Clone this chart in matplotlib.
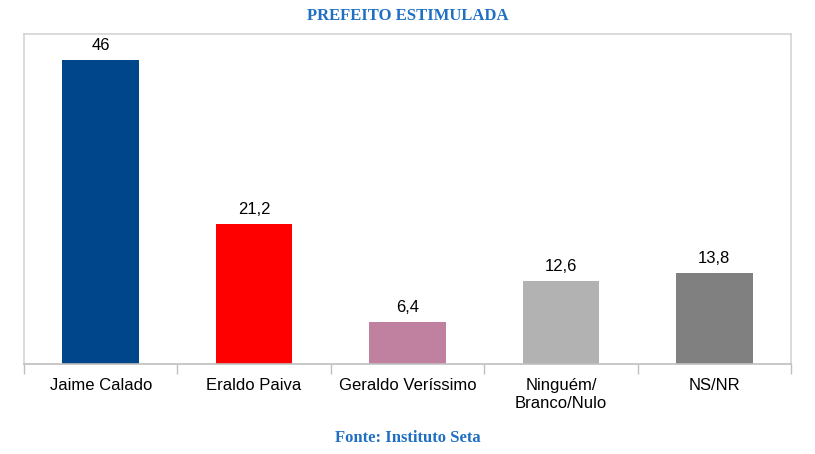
import matplotlib.pyplot as plt

candidatos = ['Jaime Calado', 'Eraldo Paiva', 'Geraldo Veríssimo', 'Ninguém/\nBranco/Nulo', 'NS/NR']
votos = [46, 21.2, 6.4, 12.6, 13.8]
rotulos = ['46', '21,2', '6,4', '12,6', '13,8']
cores = ['#00468A', '#FF0000', '#C0809F', '#B2B2B2', '#808080']


def main():
    plt.rcParams['font.family'] = ['Liberation Sans', 'DejaVu Sans']
    fig = plt.figure(figsize=(8.15, 4.54), dpi=100)
    ax = fig.add_axes([24 / 815, 90 / 454, 767 / 815, 330 / 454])

    x = range(len(candidatos))
    bars = ax.bar(x, votos, width=0.5, color=cores)
    for b, txt in zip(bars, rotulos):
        ax.annotate(txt, (b.get_x() + b.get_width() / 2, b.get_height()),
                    xytext=(0, 5), textcoords='offset points',
                    ha='center', va='bottom', fontsize=12)

    ax.set_xlim(-0.5, len(candidatos) - 0.5)
    ax.set_ylim(0, 50)
    ax.set_yticks([])
    ax.set_xticks(list(x))
    ax.set_xticklabels(candidatos, fontsize=12, linespacing=1.25)
    ax.tick_params(axis='x', which='major', length=0, pad=10)
    ax.set_xticks([i - 0.5 for i in range(len(candidatos) + 1)], minor=True)
    ax.tick_params(axis='x', which='minor', length=7, color='#BFBFBF', width=1)

    for s in ['left', 'top', 'right']:
        ax.spines[s].set_color('#D4D4D4')
        ax.spines[s].set_linewidth(1.2)
    ax.spines['bottom'].set_color('#BFBFBF')
    ax.spines['bottom'].set_linewidth(1.2)

    fig.text(408 / 815, 1 - 16 / 454, 'PREFEITO ESTIMULADA', ha='center', va='center',
             fontsize=12, fontweight='bold', family='Liberation Serif', color='#1F6FC2')
    fig.text(408 / 815, 1 - 438 / 454, 'Fonte: Instituto Seta', ha='center', va='center',
             fontsize=12, fontweight='bold', family='Liberation Serif', color='#1F6FC2')

    fig.savefig('out.png', dpi=100)


main()
